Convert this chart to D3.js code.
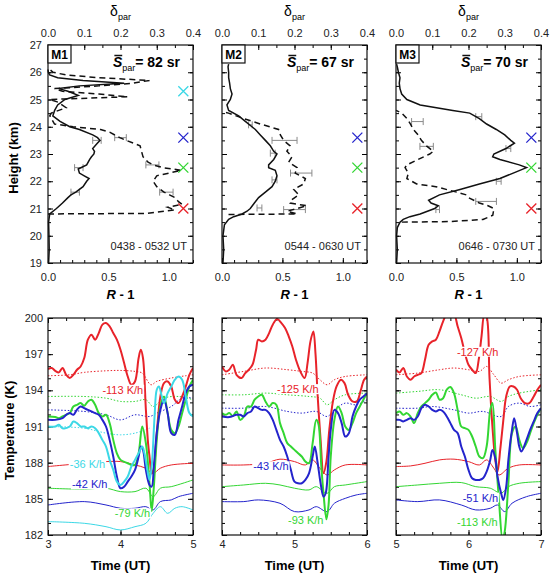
<!DOCTYPE html>
<html>
<head>
<meta charset="utf-8">
<script src="https://cdn.jsdelivr.net/npm/d3@7"></script>
<style>
  body { margin: 0; background: #fff; }
  svg { display: block; font-family: "Liberation Sans", Arial, sans-serif; }
</style>
</head>
<body>
<svg id="chart" width="552" height="577"></svg>
<script>
/* ---------- data: lidar profiles (height km, value) ---------- */
const profileNames = ["M1", "M2", "M3"];
const profileTimes = ["0438 - 0532 UT", "0544 - 0630 UT", "0646 - 0730 UT"];
const sparValues = [82, 67, 70];
const markR = 1.12;
const markHeights = { cyan: 25.3, blue: 23.6, green: 22.5, red: 21.0 };

// R - 1 (solid)
const rM1 = [[19.0,0.005],[19.5,0.01],[20.0,0.008],[20.5,0.005],[20.8,0.014],[21.0,0.07],[21.2,0.12],[21.4,0.165],[21.5,0.19],[21.6,0.23],[21.8,0.29],[22.0,0.32],[22.1,0.34],[22.2,0.30],[22.3,0.26],[22.45,0.25],[22.6,0.32],[22.8,0.345],[22.9,0.36],[23.0,0.38],[23.1,0.385],[23.2,0.37],[23.3,0.39],[23.4,0.41],[23.5,0.43],[23.6,0.41],[23.7,0.37],[23.9,0.26],[24.0,0.18],[24.2,0.10],[24.4,0.04],[24.6,0.055],[24.8,0.08],[25.0,0.14],[25.15,0.25],[25.3,0.165],[25.4,0.09],[25.5,0.26],[25.6,0.63],[25.7,0.29],[25.8,0.08],[25.9,0.014],[26.0,0.003],[26.1,0.0]];
const rM2 = [[19.0,0.008],[19.5,0.014],[20.0,0.008],[20.4,0.02],[20.6,0.055],[20.7,0.097],[20.8,0.166],[20.9,0.207],[21.0,0.234],[21.2,0.268],[21.4,0.303],[21.6,0.359],[21.8,0.414],[22.0,0.441],[22.2,0.455],[22.4,0.441],[22.5,0.386],[22.6,0.386],[22.8,0.428],[23.0,0.455],[23.1,0.428],[23.3,0.40],[23.5,0.359],[23.7,0.317],[23.9,0.276],[24.0,0.248],[24.2,0.193],[24.4,0.138],[24.6,0.055],[24.8,0.041],[25.0,0.069],[25.2,0.083],[25.4,0.069],[25.6,0.063],[25.8,0.055],[26.0,0.055],[26.2,0.05],[26.3,0.055]];
const rM3 = [[19.0,0.005],[19.5,0.011],[20.0,0.005],[20.3,0.011],[20.5,0.033],[20.6,0.06],[20.7,0.115],[20.8,0.2],[21.0,0.32],[21.1,0.35],[21.2,0.29],[21.3,0.27],[21.5,0.36],[21.7,0.53],[21.9,0.69],[22.1,0.86],[22.3,0.97],[22.5,1.08],[22.6,1.02],[22.8,0.86],[22.9,0.80],[23.0,0.81],[23.2,0.91],[23.4,0.98],[23.5,0.95],[23.7,0.90],[23.9,0.83],[24.1,0.75],[24.3,0.69],[24.5,0.61],[24.6,0.47],[24.8,0.2],[25.0,0.09],[25.2,0.047],[25.4,0.033],[25.6,0.027],[25.8,0.033],[26.0,0.02],[26.2,0.011],[26.3,0.005]];

// delta_par (dashed)
const dM1 = [[20.8,0.0],[20.82,0.27],[20.95,0.35],[21.05,0.33],[21.15,0.37],[21.25,0.36],[21.4,0.35],[21.5,0.335],[21.6,0.32],[21.8,0.30],[22.0,0.29],[22.2,0.30],[22.4,0.368],[22.5,0.317],[22.6,0.29],[22.7,0.276],[22.9,0.262],[23.1,0.258],[23.3,0.254],[23.5,0.216],[23.6,0.198],[23.8,0.17],[23.9,0.145],[24.0,0.069],[24.1,0.018],[24.4,0.005],[24.5,0.009],[24.7,0.05],[24.9,0.028],[25.0,0.005],[25.1,0.22],[25.2,0.14],[25.3,0.04],[25.4,0.018],[25.5,0.14],[25.6,0.235],[25.7,0.28],[25.8,0.14],[25.9,0.05],[26.0,0.014],[26.1,0.005]];
const dM2 = [[20.78,0.018],[20.8,0.207],[20.9,0.18],[21.0,0.207],[21.1,0.234],[21.2,0.188],[21.3,0.19],[21.5,0.212],[21.7,0.198],[21.9,0.225],[22.1,0.23],[22.3,0.202],[22.5,0.207],[22.7,0.184],[22.9,0.193],[23.1,0.179],[23.3,0.188],[23.5,0.17],[23.7,0.161],[23.9,0.156],[24.1,0.106],[24.3,0.06],[24.5,0.018],[24.55,0.0]];
const dM3 = [[20.5,0.016],[20.52,0.15],[20.6,0.24],[20.75,0.267],[21.0,0.27],[21.1,0.254],[21.2,0.23],[21.4,0.20],[21.5,0.194],[21.6,0.167],[21.8,0.11],[21.9,0.057],[22.1,0.03],[22.3,0.034],[22.5,0.025],[22.6,0.03],[22.8,0.061],[23.0,0.093],[23.1,0.103],[23.3,0.084],[23.5,0.07],[23.7,0.061],[23.9,0.048],[24.1,0.04],[24.3,0.03],[24.5,0.016],[24.6,0.0]];

// error bars [height, low, high]
const rErrM1 = [[21.6,0.19,0.26],[22.5,0.22,0.29],[23.5,0.37,0.44]];
const dErrM1 = [[21.6,0.308,0.345],[22.6,0.27,0.306],[23.6,0.184,0.216]];
const rErrM2 = [[21.02,0.29,0.33],[22.05,0.414,0.455],[23.03,0.40,0.44],[24.07,0.22,0.25]];
const dErrM2 = [[20.96,0.17,0.23],[22.3,0.189,0.248],[23.5,0.138,0.207]];
const rErrM3 = [[20.96,0.33,0.36],[22.0,0.83,0.87],[23.2,0.91,0.95],[24.37,0.66,0.71]];
const dErrM3 = [[21.26,0.22,0.277],[23.28,0.066,0.103],[24.19,0.043,0.075]];

/* ---------- data: temperatures (time UT, K) ---------- */
const timeRanges = [[3, 5], [4, 6], [5, 7]];

const t1Red = [[3.0,195.76],[3.05,195.85],[3.1,195.62],[3.15,195.49],[3.2,195.85],[3.25,195.29],[3.3,195.02],[3.35,195.29],[3.4,195.71],[3.45,195.98],[3.5,196.68],[3.55,198.2],[3.6,198.62],[3.65,198.2],[3.7,198.75],[3.75,199.45],[3.8,199.58],[3.85,199.31],[3.9,198.75],[3.95,198.2],[4.0,197.37],[4.05,196.26],[4.1,195.15],[4.15,194.46],[4.2,194.74],[4.25,196.68],[4.28,197.37],[4.31,196.68],[4.35,192.4],[4.38,189.62],[4.4,188.51],[4.43,187.1],[4.46,187.6],[4.5,190.45],[4.55,193.49],[4.6,194.6],[4.65,194.74],[4.7,194.32],[4.75,193.22],[4.8,192.94],[4.85,193.49],[4.9,194.32],[4.95,195.29],[5.0,195.85]];
const t1Green = [[3.0,191.83],[3.1,191.78],[3.15,191.69],[3.2,191.83],[3.25,191.97],[3.3,192.11],[3.35,192.66],[3.4,192.8],[3.45,192.94],[3.5,192.72],[3.55,193.08],[3.6,193.22],[3.65,192.8],[3.7,192.11],[3.75,191.83],[3.8,191.97],[3.85,191.28],[3.9,189.89],[3.95,188.78],[4.0,188.23],[4.1,187.95],[4.15,187.81],[4.2,187.81],[4.25,188.78],[4.3,191.0],[4.35,189.62],[4.4,186.29],[4.43,184.0],[4.46,186.0],[4.5,189.89],[4.55,192.66],[4.6,193.49],[4.65,192.11],[4.7,190.72],[4.75,190.45],[4.8,191.0],[4.85,192.11],[4.9,193.22],[4.95,194.32],[5.0,194.88]];
const t1Blue = [[3.0,191.55],[3.1,191.55],[3.2,191.69],[3.25,191.97],[3.3,192.11],[3.35,191.97],[3.4,192.4],[3.45,192.66],[3.5,192.52],[3.55,192.38],[3.6,192.25],[3.65,192.11],[3.7,191.97],[3.75,191.55],[3.8,191.0],[3.85,189.89],[3.9,188.51],[3.95,186.85],[4.0,185.88],[4.05,186.01],[4.1,186.43],[4.15,186.85],[4.2,187.4],[4.25,188.51],[4.28,189.34],[4.31,189.06],[4.35,187.4],[4.4,186.15],[4.43,186.01],[4.46,187.68],[4.5,190.45],[4.55,192.38],[4.6,193.22],[4.65,192.11],[4.7,190.45],[4.75,190.31],[4.8,191.55],[4.85,192.66],[4.9,193.77],[4.95,194.32],[5.0,194.46]];
const t1Cyan = [[3.0,191.0],[3.1,191.0],[3.15,191.14],[3.2,190.86],[3.3,191.0],[3.35,191.42],[3.4,191.28],[3.45,191.0],[3.5,191.0],[3.55,190.86],[3.6,191.0],[3.65,190.86],[3.7,190.45],[3.75,189.89],[3.8,189.34],[3.85,188.23],[3.9,187.4],[3.95,186.43],[4.0,186.15],[4.05,186.43],[4.1,186.85],[4.15,187.68],[4.2,188.23],[4.25,188.78],[4.3,189.34],[4.33,188.78],[4.37,187.4],[4.4,186.57],[4.43,187.68],[4.47,191.83],[4.5,194.05],[4.53,194.32],[4.57,193.49],[4.6,192.94],[4.65,193.77],[4.7,194.32],[4.75,194.88],[4.8,195.15],[4.85,194.88],[4.9,193.49],[4.95,192.11],[5.0,191.83]];
const t1RedDot = [[3.0,195.21],[3.3,195.29],[3.5,195.49],[3.8,195.62],[4.0,195.65],[4.2,195.57],[4.3,195.43],[4.42,194.46],[4.5,194.74],[4.7,195.02],[4.9,195.21],[5.0,195.29]];
const t1GreenDot = [[3.0,193.49],[3.5,193.49],[3.8,193.35],[4.0,193.08],[4.2,193.08],[4.35,193.22],[4.45,192.66],[4.6,193.35],[4.8,193.49],[5.0,193.22]];
const t1BlueDot = [[3.0,192.38],[3.5,192.25],[3.8,191.97],[4.0,191.55],[4.2,191.97],[4.4,191.83],[4.5,192.11],[4.7,192.66],[4.85,193.35],[5.0,193.35]];
const t1CyanDot = [[3.0,191.0],[3.5,190.86],[3.8,190.45],[4.0,190.31],[4.2,190.45],[4.4,190.86]];
const t1RedThin = [[3.0,187.68],[3.5,187.95],[3.8,188.09],[4.0,188.09],[4.2,187.81],[4.35,187.54],[4.45,187.12],[4.55,187.54],[4.7,187.81],[5.0,187.95]];
const t1GreenThin = [[3.0,185.88],[3.5,185.8],[3.8,185.88],[4.0,185.6],[4.2,185.6],[4.35,185.88],[4.45,185.18],[4.55,185.88],[4.7,186.01],[5.0,186.57]];
const t1BlueThin = [[3.0,184.49],[3.5,184.77],[3.8,184.49],[4.0,184.22],[4.2,184.22],[4.35,184.35],[4.45,184.08],[4.55,184.77],[4.7,184.91],[4.8,185.18],[5.0,185.46]];
const t1CyanThin = [[3.0,183.11],[3.5,182.97],[3.8,182.69],[4.0,182.42],[4.2,182.69],[4.35,182.97],[4.45,183.8],[4.55,184.35],[4.65,183.8],[4.75,184.22],[4.85,184.35],[5.0,184.08]];

const t2Red = [[4.0,195.98],[4.05,195.57],[4.1,195.71],[4.15,196.12],[4.2,195.29],[4.27,195.02],[4.32,195.43],[4.37,195.71],[4.42,196.12],[4.47,197.37],[4.5,198.2],[4.55,198.06],[4.6,198.2],[4.65,198.75],[4.7,199.45],[4.76,199.92],[4.82,199.58],[4.87,199.17],[4.92,198.48],[4.97,197.64],[5.02,196.54],[5.08,195.57],[5.14,195.02],[5.18,196.26],[5.22,198.06],[5.26,198.89],[5.29,197.0],[5.32,193.49],[5.36,189.89],[5.4,187.12],[5.44,188.09],[5.48,190.72],[5.53,193.08],[5.58,194.32],[5.64,194.88],[5.69,194.6],[5.74,193.63],[5.8,193.08],[5.86,193.08],[5.91,193.91],[5.96,194.88],[6.0,195.15]];
const t2Green = [[4.0,192.11],[4.05,191.97],[4.1,192.11],[4.15,191.88],[4.2,192.25],[4.25,191.55],[4.3,191.83],[4.35,192.66],[4.4,192.66],[4.45,193.22],[4.5,193.49],[4.55,193.63],[4.6,193.08],[4.65,192.66],[4.7,192.94],[4.75,192.8],[4.8,191.28],[4.85,190.45],[4.9,189.62],[4.95,189.34],[5.0,189.06],[5.05,188.78],[5.1,188.51],[5.15,188.09],[5.2,187.95],[5.25,189.62],[5.3,191.55],[5.33,191.2],[5.37,187.68],[5.4,185.46],[5.44,183.3],[5.47,184.5],[5.5,188.51],[5.55,191.55],[5.6,192.66],[5.65,192.11],[5.7,191.0],[5.75,190.72],[5.8,191.28],[5.85,192.11],[5.9,192.66],[5.95,193.22],[6.0,193.77]];
const t2Blue = [[4.0,191.83],[4.1,191.78],[4.2,191.97],[4.25,191.97],[4.3,191.83],[4.35,192.11],[4.4,192.25],[4.45,192.66],[4.5,192.52],[4.55,192.38],[4.6,192.38],[4.65,192.11],[4.7,191.55],[4.75,190.72],[4.8,189.89],[4.85,189.34],[4.9,188.51],[4.95,187.4],[5.0,186.43],[5.05,186.29],[5.1,186.29],[5.15,186.57],[5.2,187.12],[5.25,188.51],[5.28,189.34],[5.32,187.95],[5.36,186.29],[5.4,185.18],[5.43,185.46],[5.47,188.51],[5.5,190.72],[5.55,192.38],[5.6,192.11],[5.65,191.28],[5.7,190.17],[5.75,190.45],[5.8,191.83],[5.85,192.66],[5.9,193.22],[5.95,193.49],[6.0,193.77]];
const t2RedDot = [[4.0,195.29],[4.3,195.57],[4.6,195.85],[4.9,195.71],[5.1,195.57],[5.25,195.43],[5.35,194.88],[5.45,194.46],[5.55,194.88],[5.7,195.15],[6.0,195.29]];
const t2GreenDot = [[4.0,193.63],[4.3,193.63],[4.6,193.77],[4.9,193.63],[5.2,193.49],[5.35,193.35],[5.45,192.8],[5.55,193.22],[5.7,193.63],[6.0,193.77]];
const t2BlueDot = [[4.0,192.52],[4.3,192.52],[4.6,192.66],[4.9,192.25],[5.1,192.11],[5.3,192.25],[5.45,191.83],[5.55,192.38],[5.7,192.94],[5.85,192.8],[6.0,193.22]];
const t2RedThin = [[4.0,187.81],[4.3,187.81],[4.6,187.95],[4.8,188.29],[5.0,188.09],[5.15,187.81],[5.25,188.23],[5.35,187.54],[5.45,186.98],[5.55,187.4],[5.7,187.81],[6.0,187.81]];
const t2GreenThin = [[4.0,186.01],[4.3,186.15],[4.6,186.29],[4.8,186.15],[5.0,185.88],[5.2,185.74],[5.3,186.01],[5.45,185.46],[5.55,186.01],[5.7,186.15],[6.0,186.43]];
const t2BlueThin = [[4.0,184.77],[4.3,184.77],[4.5,184.91],[4.8,184.63],[5.0,183.94],[5.2,184.08],[5.3,184.35],[5.45,183.94],[5.55,184.63],[5.7,185.04],[5.85,185.32],[6.0,185.46]];

const t3Red = [[5.0,195.71],[5.05,195.49],[5.1,195.85],[5.15,195.15],[5.2,194.88],[5.25,195.15],[5.3,195.29],[5.35,195.43],[5.4,196.54],[5.45,197.78],[5.5,198.06],[5.55,198.2],[5.6,198.89],[5.65,199.72],[5.7,200.3],[5.75,200.1],[5.8,200.3],[5.85,199.31],[5.9,198.34],[5.95,197.1],[6.0,196.12],[6.05,195.71],[6.1,195.43],[6.14,196.5],[6.18,198.5],[6.22,200.3],[6.25,200.1],[6.29,195.0],[6.33,191.0],[6.37,188.2],[6.4,187.26],[6.44,189.2],[6.48,191.5],[6.52,193.5],[6.57,194.32],[6.62,194.32],[6.67,194.05],[6.72,193.35],[6.78,192.94],[6.84,192.94],[6.9,193.49],[6.95,194.05],[7.0,194.46]];
const t3Green = [[5.0,192.11],[5.05,192.25],[5.1,191.97],[5.15,192.11],[5.2,191.83],[5.25,191.28],[5.3,192.11],[5.35,192.66],[5.4,192.94],[5.45,193.22],[5.5,193.63],[5.55,193.82],[5.6,193.22],[5.65,193.35],[5.7,194.05],[5.75,194.27],[5.8,193.77],[5.85,192.38],[5.9,191.0],[5.95,190.86],[6.0,190.72],[6.05,190.17],[6.1,189.34],[6.15,188.51],[6.2,188.37],[6.25,189.34],[6.3,192.38],[6.33,192.94],[6.37,189.06],[6.42,184.91],[6.47,181.6],[6.5,182.3],[6.55,186.29],[6.6,190.45],[6.65,191.0],[6.7,189.89],[6.75,189.2],[6.8,189.62],[6.85,190.45],[6.9,191.28],[6.95,191.97],[7.0,192.52]];
const t3Blue = [[5.0,191.55],[5.05,191.55],[5.1,191.42],[5.15,191.55],[5.2,191.69],[5.25,191.55],[5.3,191.83],[5.35,192.52],[5.4,192.8],[5.45,192.66],[5.5,192.38],[5.55,192.25],[5.6,192.38],[5.65,192.25],[5.7,191.83],[5.75,191.28],[5.8,190.72],[5.85,190.45],[5.9,189.34],[5.95,188.51],[6.0,187.4],[6.05,186.71],[6.1,186.57],[6.15,186.57],[6.2,186.71],[6.25,187.26],[6.3,188.23],[6.33,189.06],[6.37,188.37],[6.4,186.85],[6.45,185.46],[6.48,184.91],[6.52,186.01],[6.55,188.23],[6.6,190.72],[6.63,191.69],[6.67,190.45],[6.7,189.34],[6.73,188.92],[6.8,189.89],[6.85,190.72],[6.9,191.42],[6.95,192.11],[7.0,192.52]];
const t3RedDot = [[5.0,195.29],[5.3,195.43],[5.6,195.71],[5.8,195.85],[6.0,195.71],[6.15,195.57],[6.25,195.98],[6.35,195.29],[6.45,194.6],[6.55,194.88],[6.7,195.15],[7.0,195.29]];
const t3GreenDot = [[5.0,193.77],[5.3,193.91],[5.6,194.05],[5.9,193.63],[6.1,193.35],[6.3,193.49],[6.45,193.08],[6.55,193.49],[6.7,193.77],[7.0,194.05]];
const t3BlueDot = [[5.0,192.52],[5.3,192.52],[5.5,192.66],[5.8,192.38],[6.0,192.11],[6.2,192.25],[6.45,191.83],[6.55,192.66],[6.7,192.94],[6.85,192.66],[7.0,192.8]];
const t3RedThin = [[5.0,187.68],[5.2,187.73],[5.4,187.95],[5.6,188.23],[5.8,188.29],[6.0,188.09],[6.15,187.81],[6.25,188.23],[6.35,187.54],[6.42,186.98],[6.55,187.54],[6.7,187.81],[7.0,187.81]];
const t3GreenThin = [[5.0,186.01],[5.3,186.15],[5.6,186.29],[5.9,186.35],[6.1,186.01],[6.3,185.88],[6.45,185.46],[6.55,186.01],[6.7,186.29],[7.0,186.43]];
const t3BlueThin = [[5.0,184.91],[5.3,184.77],[5.6,184.91],[5.9,184.49],[6.1,184.08],[6.3,184.22],[6.4,184.49],[6.5,183.94],[6.6,184.63],[6.8,185.18],[7.0,185.46]];

// cooling-rate labels [time, temperature, text, colour]
const rateLabels1 = [[3.75,194.05,"-113 K/h","red"],[3.3,187.9,"-36 K/h","cyan"],[3.33,186.2,"-42 K/h","blue"],[3.92,183.8,"-79 K/h","green"]];
const rateLabels2 = [[4.76,194.1,"-125 K/h","red"],[4.43,187.7,"-43 K/h","blue"],[4.91,183.25,"-93 K/h","green"]];
const rateLabels3 = [[5.84,197.2,"-127 K/h","red"],[5.92,185.1,"-51 K/h","blue"],[5.84,183.1,"-113 K/h","green"]];

/* ---------- layout ---------- */
const FONT = "'Liberation Sans', Arial, Helvetica, sans-serif";
const svg = d3.select("#chart");
const panelX = [48, 222, 396], panelW = 145;
const topBox = { y: 45, h: 218 }, botBox = { y: 318, h: 217 };
const col = { red: "#e8232a", green: "#33d633", blue: "#2424cc", cyan: "#3cd8e6" };

const profiles = [
  { r: rM1, d: dM1, rErr: rErrM1, dErr: dErrM1, marks: ["cyan", "blue", "green", "red"] },
  { r: rM2, d: dM2, rErr: rErrM2, dErr: dErrM2, marks: ["blue", "green", "red"] },
  { r: rM3, d: dM3, rErr: rErrM3, dErr: dErrM3, marks: ["blue", "green", "red"] }
];
const temps = [
  { thick: [["red", t1Red], ["green", t1Green], ["blue", t1Blue], ["cyan", t1Cyan]],
    dot: [["red", t1RedDot], ["green", t1GreenDot], ["blue", t1BlueDot], ["cyan", t1CyanDot]],
    thin: [["red", t1RedThin], ["green", t1GreenThin], ["blue", t1BlueThin], ["cyan", t1CyanThin]],
    labels: rateLabels1 },
  { thick: [["red", t2Red], ["green", t2Green], ["blue", t2Blue]],
    dot: [["red", t2RedDot], ["green", t2GreenDot], ["blue", t2BlueDot]],
    thin: [["red", t2RedThin], ["green", t2GreenThin], ["blue", t2BlueThin]],
    labels: rateLabels2 },
  { thick: [["red", t3Red], ["green", t3Green], ["blue", t3Blue]],
    dot: [["red", t3RedDot], ["green", t3GreenDot], ["blue", t3BlueDot]],
    thin: [["red", t3RedThin], ["green", t3GreenThin], ["blue", t3BlueThin]],
    labels: rateLabels3 }
];

/* helper: inward ticks, minor + major, optional labels */
function drawAxis(gen, scale, transform, minor, major, fmt, pad) {
  const a = svg.append("g").attr("transform", transform)
    .call(gen(scale).tickValues(minor).tickSize(-3).tickFormat(""));
  a.select(".domain").remove();
  const b = svg.append("g").attr("transform", transform)
    .call(gen(scale).tickValues(major).tickSize(-5).tickPadding(pad).tickFormat(fmt || (() => "")));
  b.select(".domain").remove();
  b.attr("font-size", 11).attr("font-family", FONT);
  b.selectAll("text").attr("fill", "#222");
  return b;
}
const rng = (a, b, s) => d3.range(Math.round((b - a) / s) + 1).map(i => +(a + i * s).toFixed(3));

/* ---------- top row: profiles ---------- */
profiles.forEach((p, i) => {
  const x0 = panelX[i], x1 = x0 + panelW;
  const yb = topBox.y + topBox.h;
  const y = d3.scaleLinear().domain([19, 27]).range([yb, topBox.y]);
  const xr = d3.scaleLinear().domain([0, 1.2]).range([x0, x1]);
  const xd = d3.scaleLinear().domain([0, 0.4]).range([x0, x1]);

  drawAxis(d3.axisBottom, xr, `translate(0,${yb})`, rng(0, 1.2, 0.1), [0, 0.5, 1.0], d3.format(".1f"), 10);
  drawAxis(d3.axisTop, xd, `translate(0,${topBox.y})`, rng(0, 0.4, 0.05), rng(0, 0.4, 0.1), d3.format(".1f"), 8);
  drawAxis(d3.axisLeft, y, `translate(${x0},0)`, rng(19, 27, 0.5), rng(19, 27, 1), i === 0 ? d3.format("d") : null, 6);
  drawAxis(d3.axisRight, y, `translate(${x1},0)`, rng(19, 27, 0.5), rng(19, 27, 1), null, 6);

  svg.append("rect").attr("x", x0).attr("y", topBox.y).attr("width", panelW).attr("height", topBox.h)
    .attr("fill", "none").attr("stroke", "#111").attr("stroke-width", 1.2);

  const g = svg.append("g");
  // error bars
  const eg = g.append("g").attr("stroke", "#8a8a8a").attr("stroke-width", 1);
  const bars = (rows, x) => rows.forEach(([h, lo, hi]) => {
    const yy = y(h);
    eg.append("line").attr("x1", x(lo)).attr("x2", x(hi)).attr("y1", yy).attr("y2", yy);
    [lo, hi].forEach(v => eg.append("line").attr("x1", x(v)).attr("x2", x(v)).attr("y1", yy - 3.5).attr("y2", yy + 3.5));
  });
  bars(p.rErr, xr);
  bars(p.dErr, xd);

  g.append("path").datum(p.d)
    .attr("d", d3.line().x(d => xd(d[1])).y(d => y(d[0])))
    .attr("fill", "none").attr("stroke", "#111").attr("stroke-width", 1.5).attr("stroke-dasharray", "6,4");
  g.append("path").datum(p.r)
    .attr("d", d3.line().x(d => xr(d[1])).y(d => y(d[0])))
    .attr("fill", "none").attr("stroke", "#111").attr("stroke-width", 1.5);

  // coloured X markers
  p.marks.forEach(c => {
    const cx = xr(markR), cy = y(markHeights[c]), s = 5;
    g.append("path").attr("d", `M${cx - s},${cy - s}L${cx + s},${cy + s}M${cx - s},${cy + s}L${cx + s},${cy - s}`)
      .attr("stroke", col[c]).attr("stroke-width", 1.3).attr("fill", "none");
  });

  // panel tag box
  g.append("rect").attr("x", x0).attr("y", topBox.y).attr("width", 23).attr("height", 18)
    .attr("fill", "#fff").attr("stroke", "#111").attr("stroke-width", 1.2);
  g.append("text").attr("x", x0 + 11.5).attr("y", topBox.y + 13.5).attr("text-anchor", "middle")
    .attr("font-size", 12).attr("font-weight", "bold").text(profileNames[i]);

  // S_par text
  const st = g.append("text").attr("x", x0 + 132).attr("y", 67).attr("text-anchor", "end")
    .attr("font-size", 14).attr("font-weight", "bold");
  st.append("tspan").attr("font-style", "italic").text("S");
  st.append("tspan").attr("font-size", 9).attr("dy", 4).attr("font-weight", "normal").text("par");
  st.append("tspan").attr("dy", -4).text("= " + sparValues[i] + " sr");
  const ext = st.node().getExtentOfChar(0);
  g.append("line").attr("x1", ext.x + 1.5).attr("x2", ext.x + ext.width).attr("y1", ext.y + 1.5).attr("y2", ext.y + 1.5)
    .attr("stroke", "#111").attr("stroke-width", 1.5);

  g.append("text").attr("x", x0 + 139).attr("y", 250).attr("text-anchor", "end")
    .attr("font-size", 11).attr("fill", "#222").text(profileTimes[i]);

  // delta_par title
  const dt = svg.append("text").attr("x", x0 + panelW / 2).attr("y", 16).attr("text-anchor", "middle").attr("font-size", 14);
  dt.append("tspan").text("δ");
  dt.append("tspan").attr("font-size", 9).attr("dy", 4).text("par");

  // R - 1 title
  const rt = svg.append("text").attr("x", x0 + panelW / 2).attr("y", 299).attr("text-anchor", "middle")
    .attr("font-size", 13).attr("font-weight", "bold");
  rt.append("tspan").attr("font-style", "italic").text("R");
  rt.append("tspan").text(" - 1");
});

svg.append("text").attr("transform", `translate(18,${topBox.y + topBox.h / 2 + 4}) rotate(-90)`)
  .attr("text-anchor", "middle").attr("font-size", 13).attr("font-weight", "bold").text("Height (km)");

/* ---------- bottom row: temperatures ---------- */
temps.forEach((p, i) => {
  const x0 = panelX[i], x1 = x0 + panelW;
  const yb = botBox.y + botBox.h;
  const [ta, tb] = timeRanges[i];
  const x = d3.scaleLinear().domain([ta, tb]).range([x0, x1]);
  const y = d3.scaleLinear().domain([182, 200]).range([yb, botBox.y]);

  drawAxis(d3.axisBottom, x, `translate(0,${yb})`, rng(ta, tb, 0.25), rng(ta, tb, 1), d3.format("d"), 5);
  drawAxis(d3.axisTop, x, `translate(0,${botBox.y})`, rng(ta, tb, 0.25), rng(ta, tb, 1), null, 5);
  drawAxis(d3.axisLeft, y, `translate(${x0},0)`, rng(182, 200, 1), rng(182, 200, 3), i === 0 ? d3.format("d") : null, 5);
  drawAxis(d3.axisRight, y, `translate(${x1},0)`, rng(182, 200, 1), rng(182, 200, 3), null, 5);

  const clipId = "clip" + i;
  svg.append("clipPath").attr("id", clipId).append("rect")
    .attr("x", x0).attr("y", botBox.y).attr("width", panelW).attr("height", botBox.h);
  const g = svg.append("g").attr("clip-path", `url(#${clipId})`);
  const line = d3.line().x(d => x(d[0])).y(d => y(d[1])).curve(d3.curveCatmullRom.alpha(0.5));

  p.dot.forEach(([c, s]) => g.append("path").datum(s).attr("d", line)
    .attr("fill", "none").attr("stroke", col[c]).attr("stroke-width", 1).attr("stroke-dasharray", "1.5,1.8"));
  p.thin.forEach(([c, s]) => g.append("path").datum(s).attr("d", line)
    .attr("fill", "none").attr("stroke", col[c]).attr("stroke-width", 1));
  p.thick.forEach(([c, s]) => g.append("path").datum(s).attr("d", line)
    .attr("fill", "none").attr("stroke", col[c]).attr("stroke-width", 2));

  p.labels.forEach(([t, T, txt, c]) => {
    const tx = svg.append("text").attr("x", x(t)).attr("y", y(T) + 4)
      .attr("font-size", 11).attr("fill", col[c]).text(txt);
    const bb = tx.node().getBBox();
    svg.insert("rect", () => tx.node()).attr("x", bb.x - 1).attr("y", bb.y + 1)
      .attr("width", bb.width + 2).attr("height", bb.height - 2).attr("fill", "#fff");
  });

  svg.append("rect").attr("x", x0).attr("y", botBox.y).attr("width", panelW).attr("height", botBox.h)
    .attr("fill", "none").attr("stroke", "#111").attr("stroke-width", 1.2);

  svg.append("text").attr("x", x0 + panelW / 2).attr("y", 570).attr("text-anchor", "middle")
    .attr("font-size", 13).attr("font-weight", "bold").text("Time (UT)");
});

svg.append("text").attr("transform", `translate(14,${botBox.y + botBox.h / 2 + 4}) rotate(-90)`)
  .attr("text-anchor", "middle").attr("font-size", 13).attr("font-weight", "bold").text("Temperature (K)");
</script>
</body>
</html>
